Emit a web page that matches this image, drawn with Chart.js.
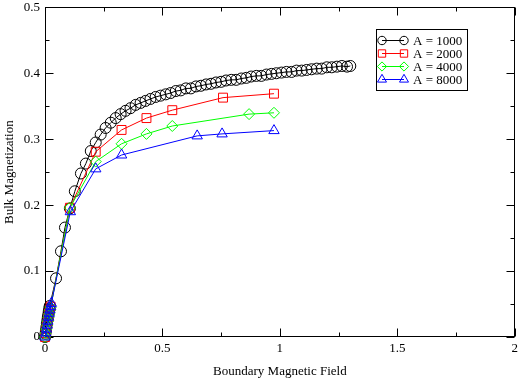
<!DOCTYPE html>
<html>
<head>
<meta charset="utf-8">
<script src="https://cdn.jsdelivr.net/npm/chart.js@4"></script>
<style>
  body { margin: 0; background: #fff; }
  canvas { display: block; }
</style>
</head>
<body>
<canvas id="magChart" width="522" height="382"></canvas>
<script>
// Bulk magnetization vs boundary field, one series per A
const seriesNames = ['A = 1000', 'A = 2000', 'A = 4000', 'A = 8000'];

const fieldA1000 = [0.000, 0.002, 0.004, 0.006, 0.008, 0.010, 0.012, 0.014, 0.016, 0.018, 0.020,
  0.047, 0.068, 0.085, 0.106, 0.127, 0.153, 0.174, 0.195, 0.216, 0.237, 0.258, 0.280, 0.301,
  0.322, 0.343, 0.364, 0.386, 0.407, 0.428, 0.449, 0.471, 0.492, 0.514, 0.535, 0.557, 0.578,
  0.600, 0.621, 0.643, 0.664, 0.686, 0.707, 0.728, 0.750, 0.771, 0.793, 0.814, 0.836, 0.857,
  0.878, 0.900, 0.921, 0.943, 0.964, 0.985, 1.007, 1.028, 1.050, 1.071, 1.093, 1.114, 1.135,
  1.157, 1.178, 1.200, 1.221, 1.243, 1.264, 1.286, 1.300];
const magA1000 = [0.000, 0.005, 0.010, 0.015, 0.020, 0.025, 0.030, 0.034, 0.039, 0.043, 0.047,
  0.089, 0.130, 0.166, 0.195, 0.221, 0.248, 0.263, 0.282, 0.295, 0.307, 0.317, 0.325, 0.332,
  0.338, 0.343, 0.347, 0.352, 0.355, 0.358, 0.361, 0.364, 0.366, 0.368, 0.370, 0.373, 0.374,
  0.377, 0.377, 0.380, 0.381, 0.383, 0.384, 0.386, 0.387, 0.389, 0.390, 0.390, 0.392, 0.393,
  0.395, 0.396, 0.396, 0.398, 0.399, 0.400, 0.401, 0.402, 0.402, 0.404, 0.404, 0.405, 0.406,
  0.407, 0.407, 0.409, 0.409, 0.410, 0.411, 0.410, 0.411];

const fieldA2000 = [0.000, 0.003, 0.006, 0.009, 0.012, 0.015, 0.018, 0.021, 0.024,
  0.106, 0.216, 0.326, 0.432, 0.542, 0.758, 0.975];
const magA2000 = [0.000, 0.006, 0.012, 0.018, 0.024, 0.030, 0.036, 0.041, 0.046,
  0.196, 0.281, 0.314, 0.332, 0.344, 0.363, 0.369];

const fieldA4000 = [0.000, 0.003, 0.006, 0.009, 0.012, 0.015, 0.018, 0.021, 0.024,
  0.106, 0.216, 0.326, 0.432, 0.542, 0.869, 0.975];
const magA4000 = [0.000, 0.006, 0.012, 0.018, 0.024, 0.030, 0.035, 0.040, 0.045,
  0.196, 0.266, 0.293, 0.308, 0.320, 0.338, 0.340];

const fieldA8000 = [0.000, 0.003, 0.006, 0.009, 0.012, 0.015, 0.018, 0.021, 0.024, 0.027,
  0.108, 0.216, 0.326, 0.648, 0.754, 0.975];
const magA8000 = [0.000, 0.006, 0.012, 0.018, 0.024, 0.030, 0.036, 0.041, 0.046, 0.051,
  0.190, 0.255, 0.276, 0.305, 0.308, 0.313];

const xTicks = [0, 0.5, 1, 1.5, 2];
const yTicks = [0, 0.1, 0.2, 0.3, 0.4, 0.5];

const serif = "'Liberation Serif', 'Times New Roman', serif";

function pairs(xs, ys) {
  return xs.map((v, i) => ({ x: v, y: ys[i] }));
}

function series(label, xs, ys, color, style, radius, order) {
  return {
    label: label,
    data: pairs(xs, ys),
    borderColor: color,
    backgroundColor: 'rgba(0,0,0,0)',
    pointBorderColor: color,
    pointBackgroundColor: 'rgba(0,0,0,0)',
    borderWidth: 1,
    pointBorderWidth: 1,
    pointStyle: style,
    pointRadius: radius,
    pointHoverRadius: radius,
    showLine: true,
    fill: false,
    tension: 0,
    clip: false,
    order: order
  };
}

const datasets = [
  series(seriesNames[0], fieldA1000, magA1000, '#000000', 'circle', 5.5, 4),
  series(seriesNames[1], fieldA2000, magA2000, '#ff0000', 'rect', 6.3, 3),
  series(seriesNames[2], fieldA4000, magA4000, '#00ff00', 'rectRot', 5.5, 2),
  series(seriesNames[3], fieldA8000, magA8000, '#0000ff', 'triangle', 6, 1)
];

// box frame with inward major/minor ticks on all four sides
const framePlugin = {
  id: 'frame',
  beforeDatasetsDraw(chart) {
    const { ctx, chartArea: a, scales } = chart;
    const L = Math.round(a.left) + 0.5, R = Math.round(a.right) - 0.5;
    const T = Math.round(a.top) + 0.5, B = Math.round(a.bottom) - 0.5;
    ctx.save();
    ctx.strokeStyle = '#000';
    ctx.lineWidth = 1;
    ctx.strokeRect(L, T, R - L, B - T);
    ctx.beginPath();
    const xMinor = xTicks.slice(1).map((v, i) => (v + xTicks[i]) / 2);
    const yMinor = yTicks.slice(1).map((v, i) => (v + yTicks[i]) / 2);
    const xMarks = xTicks.map(v => [v, 8]).concat(xMinor.map(v => [v, 4]));
    const yMarks = yTicks.map(v => [v, 8]).concat(yMinor.map(v => [v, 4]));
    xMarks.forEach(([v, len]) => {
      const px = Math.round(scales.x.getPixelForValue(v)) + 0.5;
      ctx.moveTo(px, B); ctx.lineTo(px, B - len);
      ctx.moveTo(px, T); ctx.lineTo(px, T + len);
    });
    yMarks.forEach(([v, len]) => {
      const py = Math.round(scales.y.getPixelForValue(v)) + 0.5;
      ctx.moveTo(L, py); ctx.lineTo(L + len, py);
      ctx.moveTo(R, py); ctx.lineTo(R - len, py);
    });
    ctx.stroke();
    ctx.restore();
  },
  afterDraw(chart) {
    const ctx = chart.ctx;
    ctx.save();
    ctx.strokeStyle = '#000';
    ctx.lineWidth = 1;
    ctx.fillStyle = '#fff';
    ctx.fillRect(376.5, 29.5, 91, 61);
    ctx.strokeRect(376.5, 29.5, 91, 61);
    ctx.font = '13px ' + serif;
    ctx.textBaseline = 'middle';
    const legendRadius = [4.2, 5.2, 4.6, 5.2];
    chart.data.datasets.forEach((ds, i) => {
      const yy = 40.5 + i * 13;
      ctx.strokeStyle = ds.borderColor;
      ctx.beginPath();
      ctx.moveTo(382, yy); ctx.lineTo(404, yy);
      ctx.stroke();
      const opts = { pointStyle: ds.pointStyle, radius: legendRadius[i], rotation: 0, borderWidth: 1 };
      ctx.fillStyle = 'rgba(0,0,0,0)';
      Chart.helpers.drawPoint(ctx, opts, 382, yy);
      Chart.helpers.drawPoint(ctx, opts, 404, yy);
      ctx.fillStyle = '#000';
      ctx.fillText(ds.label, 413, yy + 1);
    });
    ctx.restore();
  }
};

const magCtx = document.getElementById('magChart').getContext('2d');
const magChart = new Chart(magCtx, {
  type: 'scatter',
  data: { datasets: datasets },
  options: {
    responsive: false,
    animation: false,
    events: [],
    layout: { padding: { top: 6, right: 5, left: 0, bottom: 0 } },
    plugins: {
      legend: { display: false },
      tooltip: { enabled: false }
    },
    scales: {
      x: {
        type: 'linear',
        min: 0,
        max: 2,
        afterBuildTicks: s => { s.ticks = xTicks.map(v => ({ value: v })); },
        afterFit: s => { s.height = 45; s.paddingLeft = 0; s.paddingRight = 0; },
        grid: { display: false, drawTicks: false },
        border: { display: false },
        ticks: {
          color: '#000',
          font: { family: serif, size: 13 },
          padding: 4,
          maxRotation: 0,
          callback: v => String(v)
        },
        title: {
          display: true,
          text: 'Boundary Magnetic Field',
          color: '#000',
          font: { family: serif, size: 13 },
          padding: { top: 0, bottom: 3 }
        }
      },
      y: {
        type: 'linear',
        min: 0,
        max: 0.5,
        afterBuildTicks: s => { s.ticks = yTicks.map(v => ({ value: v })); },
        afterFit: s => { s.width = 45; s.paddingTop = 0; s.paddingBottom = 0; },
        grid: { display: false, drawTicks: false },
        border: { display: false },
        ticks: {
          color: '#000',
          font: { family: serif, size: 13 },
          padding: 5,
          callback: v => String(v)
        },
        title: {
          display: true,
          text: 'Bulk Magnetization',
          color: '#000',
          font: { family: serif, size: 13 },
          padding: { top: 2, bottom: 0 }
        }
      }
    }
  },
  plugins: [framePlugin]
});
</script>
</body>
</html>
